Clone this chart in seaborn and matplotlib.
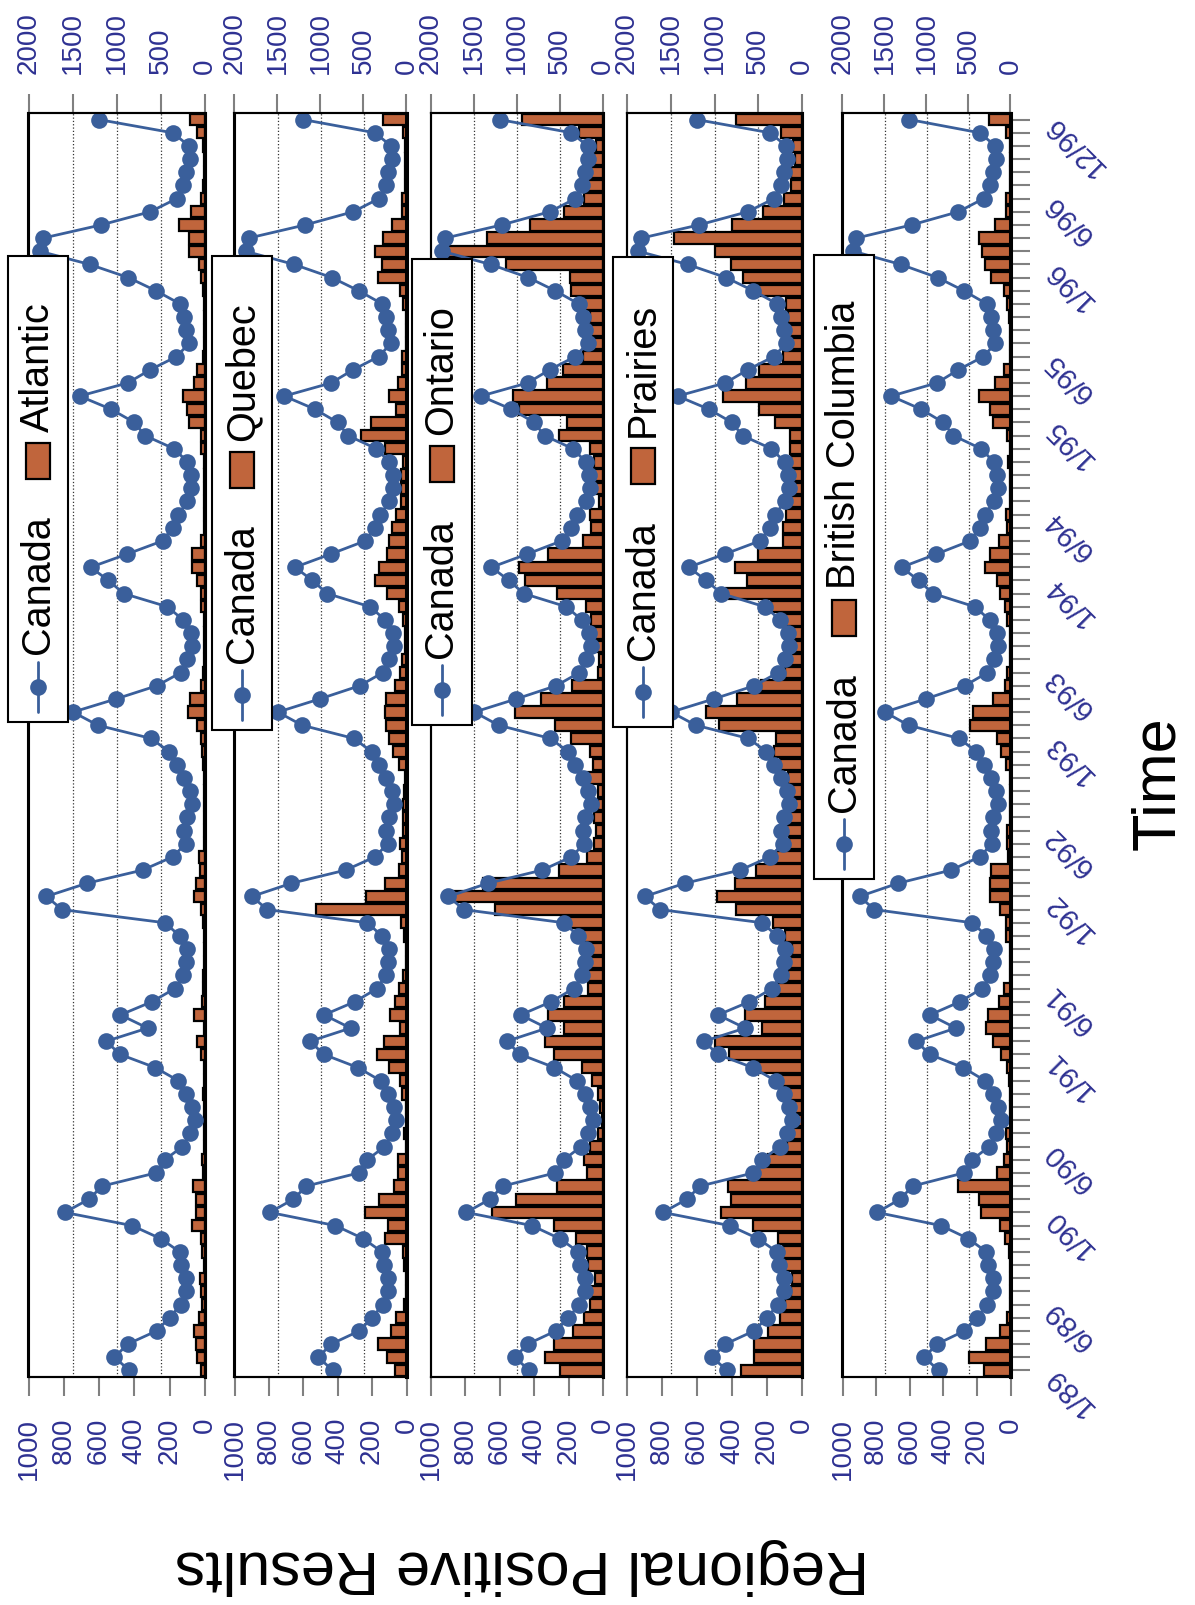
import numpy as np
import matplotlib
matplotlib.use('Agg')
import matplotlib.pyplot as plt
from matplotlib.patches import Rectangle
from matplotlib.lines import Line2D
import seaborn as sns

sns.set_theme(style='white')
plt.rcParams['font.family'] = ['Liberation Sans', 'DejaVu Sans']

# monthly counts, Jan 1989 .. Dec 1996
canada = [857, 1026, 876, 549, 402, 274, 211, 211, 267, 286, 500, 827,
          1590, 1316, 1165, 556, 455, 256, 169, 117, 150, 211, 301, 564,
          962, 1120, 650, 959, 602, 342, 244, 211, 199, 286, 455, 1620,
          1797, 1338, 707, 368, 218, 237, 207, 143, 169, 237, 320, 406,
          613, 1214, 1496, 1008, 545, 274, 199, 143, 162, 248, 425, 921,
          1094, 1297, 883, 481, 368, 305, 199, 154, 162, 199, 350, 680,
          801, 1064, 1421, 876, 620, 323, 180, 211, 237, 282, 556, 868,
          1308, 1872, 1835, 1177, 620, 320, 244, 211, 169, 180, 368, 1203]

atlantic = [25, 43, 49, 62, 34, 15, 25, 30, 6, 15, 25, 72,
            53, 53, 66, 9, 15, 6, 3, 3, 3, 9, 3, 5,
            25, 43, 3, 62, 15, 11, 9, 3, 3, 3, 9, 25,
            62, 49, 30, 34, 5, 5, 5, 3, 3, 5, 11, 15,
            20, 43, 96, 87, 25, 10, 5, 3, 3, 5, 25, 25,
            43, 72, 76, 25, 8, 5, 3, 3, 3, 5, 25, 25,
            91, 104, 123, 62, 43, 9, 3, 3, 3, 3, 9, 25,
            34, 91, 91, 147, 81, 25, 9, 3, 6, 11, 43, 85]

quebec = [69, 112, 167, 92, 59, 14, 3, 3, 14, 20, 127, 108,
          239, 157, 73, 49, 49, 3, 16, 3, 3, 24, 39, 102,
          171, 133, 39, 98, 65, 45, 20, 3, 3, 16, 33, 524,
          235, 124, 45, 24, 35, 20, 20, 20, 14, 10, 43, 78,
          100, 122, 127, 122, 65, 39, 29, 10, 6, 20, 45, 114,
          182, 161, 114, 104, 82, 59, 33, 33, 33, 20, 124, 265,
          206, 59, 104, 49, 29, 29, 3, 3, 3, 20, 39, 167,
          143, 182, 137, 84, 25, 24, 8, 8, 8, 8, 20, 137]

ontario = [249, 337, 284, 176, 112, 78, 69, 49, 88, 94, 157, 284,
           647, 506, 269, 92, 108, 78, 29, 3, 20, 29, 63, 122,
           284, 337, 229, 320, 225, 88, 88, 88, 78, 118, 196, 627,
           892, 696, 255, 92, 53, 43, 53, 29, 29, 92, 59, 78,
           186, 280, 514, 363, 180, 29, 24, 49, 49, 69, 98, 265,
           451, 490, 318, 118, 69, 78, 25, 43, 69, 53, 78, 255,
           212, 490, 525, 324, 235, 114, 78, 69, 78, 127, 186, 190,
           563, 941, 676, 422, 229, 108, 98, 69, 53, 43, 141, 471]

prairies = [350, 274, 274, 194, 128, 99, 61, 57, 95, 109, 137, 280,
            461, 404, 423, 251, 194, 86, 51, 42, 51, 84, 124, 251,
            419, 495, 227, 328, 213, 147, 80, 70, 55, 95, 166, 375,
            484, 381, 261, 147, 76, 84, 76, 42, 51, 80, 128, 160,
            150, 476, 547, 370, 232, 95, 70, 70, 80, 99, 175, 432,
            314, 385, 251, 109, 109, 90, 61, 46, 51, 61, 67, 70,
            156, 246, 451, 322, 248, 109, 70, 80, 80, 90, 270, 337,
            408, 499, 731, 400, 223, 103, 61, 61, 42, 51, 122, 375]

british_columbia = [156, 250, 144, 60, 20, 3, 3, 3, 3, 10, 30, 64,
                    174, 186, 314, 80, 36, 20, 24, 3, 3, 3, 10, 20,
                    56, 106, 146, 136, 66, 36, 3, 3, 3, 24, 24, 60,
                    124, 120, 114, 16, 20, 20, 5, 3, 3, 3, 26, 56,
                    80, 244, 224, 104, 30, 20, 3, 3, 3, 20, 30, 64,
                    80, 154, 124, 66, 20, 24, 3, 3, 3, 14, 3, 20,
                    106, 124, 186, 90, 36, 3, 3, 3, 10, 20, 40, 114,
                    154, 170, 186, 90, 26, 26, 3, 3, 3, 3, 26, 126]

regions = ['Atlantic', 'Quebec', 'Ontario', 'Prairies', 'British Columbia']
region_values = [atlantic, quebec, ontario, prairies, british_columbia]
time_labels = ['1/89', '6/89', '1/90', '6/90', '1/91', '6/91', '1/92', '6/92',
               '1/93', '6/93', '1/94', '6/94', '1/95', '6/95', '1/96', '6/96', '12/96']
region_ticks = [0, 200, 400, 600, 800, 1000]
canada_ticks = [0, 500, 1000, 1500, 2000]

months = np.arange(len(canada))
time_pos = [(int(s.split('/')[1]) - 89) * 12 + int(s.split('/')[0]) - 1 for s in time_labels]

BAR = '#C0653C'
LINE = '#3A5F9B'
NAVY = '#2E3192'
TICK = '#808080'

W, H = 1195, 1606
fig = plt.figure(figsize=(W / 100, H / 100), dpi=100)
fig.patch.set_facecolor('white')


def fx(x):
    return x / W


def fy(y):
    return 1 - y / H


# panel columns in pixels (left, right), shared top/bottom
cols = [(28.5, 205), (234.5, 406.5), (431, 603), (627, 802), (842.5, 1010.5)]
TOP, BOT = 114, 1378
legends = [(38, 257), (242, 257), (441.5, 260), (642.5, 258), (843.5, 256)]

grid_pos = [v * region_ticks[-1] / canada_ticks[-1] for v in canada_ticks[1:-1]]

for k, (region, vals) in enumerate(zip(regions, region_values)):
    L, R = cols[k]
    ax = fig.add_axes([fx(L), fy(BOT), (R - L) / W, (BOT - TOP) / H])
    ax.barh(months, vals, height=0.86, color=BAR, edgecolor='black', linewidth=1.6, zorder=2)
    ax.set_xlim(region_ticks[-1], 0)
    ax.set_xticks(region_ticks)
    ax.set_xticks(grid_pos, minor=True)
    ax.set_axisbelow(True)
    ax.grid(False)
    ax.grid(True, which='minor', axis='x', color='#333333', linestyle=':', linewidth=0.9)
    ax.tick_params(axis='x', which='major', bottom=True, top=False, direction='out', length=13.5,
                   width=1.5, color=TICK, labelsize=20, labelcolor=NAVY, labelrotation=90, pad=15)
    ax.tick_params(axis='x', which='minor', length=0)

    ax2 = ax.twiny()
    sns.lineplot(x=canada, y=months, orient='y', ax=ax2, color=LINE, linewidth=2,
                 marker='o', markersize=12, markeredgewidth=0, legend=False, estimator=None)
    ax2.set_xlim(canada_ticks[-1], 0)
    ax2.set_xticks(canada_ticks)
    ax2.set_xlabel('')
    ax2.tick_params(axis='x', which='major', top=True, bottom=False, labeltop=True, labelbottom=False,
                    direction='out', length=13.5, width=1.5, color=TICK, labelsize=20,
                    labelcolor=NAVY, labelrotation=90, pad=15)

    if k == len(regions) - 1:
        ax.yaxis.tick_right()
        ax.set_yticks(time_pos, time_labels)
        ax.set_yticks(months, minor=True)
        ax.tick_params(axis='y', which='both', right=True, left=False, direction='out',
                       length=13.5, width=1.5, color=TICK)
        ax.tick_params(axis='y', which='major', labelsize=21, labelcolor=NAVY, labelrotation=135, pad=14)
    else:
        ax.set_yticks([])
    ax.set_ylim(-0.5, len(months) - 0.5)
    ax.set_ylabel('')

    for a in (ax, ax2):
        for side, s in a.spines.items():
            s.set_visible(True)
            s.set_color('black')
            s.set_linewidth(2.2 if side == 'right' else 1.5)

    if k == len(regions) - 1:
        for lab in ax.get_yticklabels():
            lab.set_rotation_mode('anchor')
            lab.set_ha('right')
            lab.set_va('center')

renderer = fig.canvas.get_renderer()


def add_legend(xc, top, region):
    fs = 28.5
    y = top + 45
    t1 = fig.text(fx(xc), fy(y), region, rotation=90, rotation_mode='anchor', ha='right',
                  va='center', fontsize=fs, color='black', zorder=5)
    y += t1.get_window_extent(renderer).height + 12
    fig.add_artist(Rectangle((fx(xc - 12), fy(y + 36)), 24 / W, 36 / H, transform=fig.transFigure,
                             facecolor=BAR, edgecolor='black', linewidth=1.6, zorder=4))
    y += 36 + 36
    t2 = fig.text(fx(xc), fy(y), 'Canada', rotation=90, rotation_mode='anchor', ha='right',
                  va='center', fontsize=fs, color='black', zorder=5)
    y += t2.get_window_extent(renderer).height + 8
    fig.add_artist(Line2D([fx(xc), fx(xc)], [fy(y), fy(y + 50)], transform=fig.transFigure,
                          color=LINE, linewidth=2, zorder=4))
    fig.add_artist(Line2D([fx(xc)], [fy(y + 25)], transform=fig.transFigure, marker='o',
                          markersize=12, markeredgewidth=0, color=LINE, zorder=4))
    y += 50 + 10
    fig.add_artist(Rectangle((fx(xc - 30), fy(y)), 60 / W, (y - top) / H, transform=fig.transFigure,
                             facecolor='white', edgecolor='black', linewidth=1.5, zorder=3))


for (xc, top), region in zip(legends, regions):
    add_legend(xc, top, region)

fig.text(fx(1159), fy(783), 'Time', rotation=90, fontsize=44, ha='center', va='center', color='black')
fig.text(fx(522), fy(1567), 'Regional Positive Results', rotation=180, fontsize=44,
         ha='center', va='center', color='black')

fig.savefig('out.png', dpi=100)
